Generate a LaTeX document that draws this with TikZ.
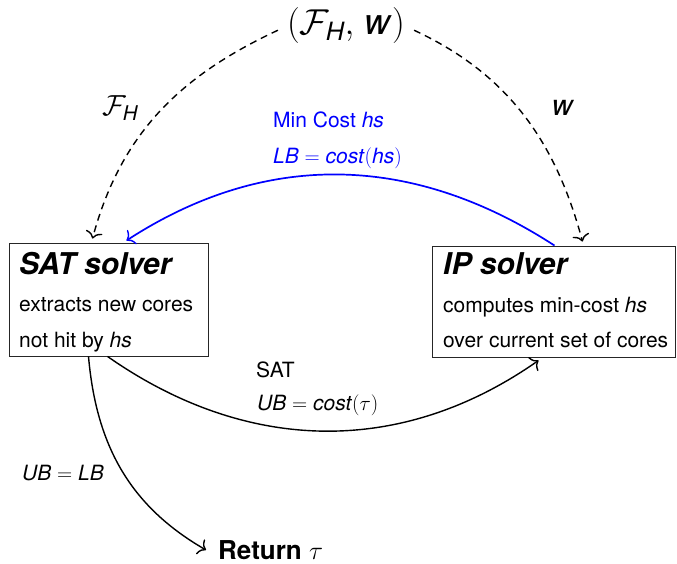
\RequirePackage{fix-cm}
\documentclass[tikz,border=0pt]{standalone}
\usepackage{amsmath}
\usepackage{fontspec}
\setmainfont{TeX Gyre Heros}
\usetikzlibrary{arrows.meta}
\tikzset{
  box/.style={draw=black!85, line width=0.9pt, rectangle, inner sep=0pt},
  ttl/.style={anchor=base west, inner sep=0pt, font=\fontsize{30}{34}\selectfont\bfseries\itshape},
  body/.style={anchor=base west, inner sep=0pt, font=\fontsize{21}{25}\selectfont},
  lbl/.style={inner sep=0pt, font=\fontsize{21}{25}\selectfont},
  biglbl/.style={inner sep=0pt, font=\fontsize{29}{34}\selectfont},
  arr/.style={line width=1.4pt, -{Computer Modern Rightarrow[length=7pt,width=17pt,line width=1.4pt]}},
  dsh/.style={arr, dash pattern=on 7pt off 5pt, shorten <=10pt},
}
\begin{document}
\begin{tikzpicture}[x=1pt,y=1pt]
\useasboundingbox (0,0) rectangle (677,564);
% boxes
\node[box, minimum width=199pt, minimum height=113pt] (sat) at (108.5,264.5) {};
\node[box, minimum width=243pt, minimum height=111pt] (ip) at (553.5,262.5) {};
% box texts
\node[ttl] (satt) at (19,289) {SAT solver};
\node[body] (sat1) at (19,252) {extracts new cores};
\node[body] (sat2) at (19,216) {not hit by \textit{hs}};
\node[ttl] (ipt) at (443,289) {IP solver};
\node[body] (ip1) at (443,251) {computes min-cost \textit{hs}};
\node[body] (ip2) at (443,216) {over current set of cores};
% top label
\node[inner sep=0pt, font=\fontsize{36}{42}\selectfont] (top) at (346,538) {$(\mathcal{F}_{\text{\itshape H}},\;$\textit{w}$)$};
% return
\node[anchor=west, inner sep=0pt, font=\fontsize{26}{30}\selectfont\bfseries] (ret) at (218,14) {Return $\tau$};
% helper coordinates
\coordinate (satA) at ([xshift=-16pt,yshift=4pt]sat.north);
\coordinate (satB) at ([xshift=18pt,yshift=2pt]sat.north);
\coordinate (ipA) at ([xshift=29pt,yshift=4pt]ip.north);
\coordinate (ipB) at ([xshift=1pt]ip.north);
\coordinate (satC) at ([xshift=-1pt]sat.south);
\coordinate (satD) at ([xshift=-20pt]sat.south);
\coordinate (ipC) at ([xshift=-15pt,yshift=-3pt]ip.south);
\coordinate (retA) at ([xshift=-12pt]ret.west);
% dashed arrows
\draw[dsh] (top.west) to[out=205,in=75] (satA);
\draw[dsh] (top.east) to[out=-25,in=105] (ipA);
\node[biglbl] (fh) at (120,456) {$\mathcal{F}_{\text{\itshape H}}$};
\node[biglbl] (wl) at (563,456) {\textit{w}};
% blue arrow
\draw[arr, blue, line width=1.7pt] (ipB) to[out=147,in=33] (satB);
\node[lbl, anchor=west, text=blue] (mc) at (273,444) {Min Cost \textit{hs}};
\node[lbl, anchor=west, text=blue] (lb) at (273,406) {\textit{LB} $=$ \textit{cost}$($\textit{hs}$)$};
% SAT -> IP
\draw[arr] (satC) to[out=-35,in=-145] (ipC);
\node[lbl, anchor=west] (satl) at (256,194) {SAT};
\node[lbl, anchor=west] (ub) at (257,159) {\textit{UB} $=$ \textit{cost}$(\tau)$};
% return
\draw[arr] (satD) to[out=-85,in=150] (retA);
\node[lbl, anchor=west] (ublb) at (22,91) {\textit{UB} $=$ \textit{LB}};
\end{tikzpicture}
\end{document}
